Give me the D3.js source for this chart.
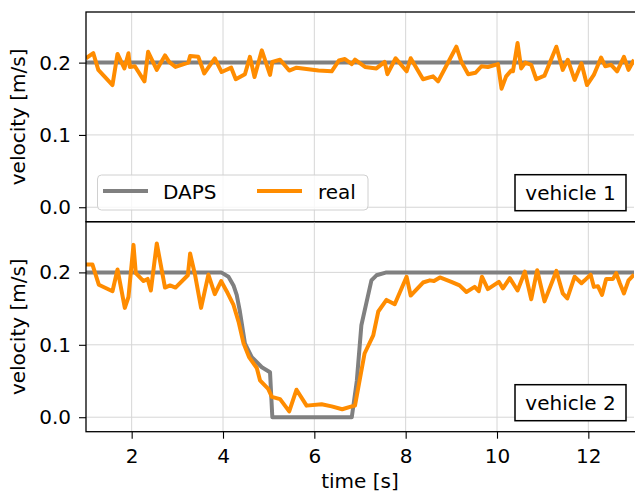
<!DOCTYPE html>
<html>
<head>
<meta charset="utf-8">
<script src="https://cdn.jsdelivr.net/npm/d3@7"></script>
<style>
  body { margin: 0; background: #fff; }
  svg { display: block; font-family: "DejaVu Sans", sans-serif; }
</style>
</head>
<body>
<svg width="635" height="492"></svg>
<script>
// vehicle 1: planned (DAPS) and measured velocity
const v1DapsT = [1, 13];
const v1DapsV = [0.2, 0.2];
const v1RealT = [1.0, 1.16, 1.27, 1.58, 1.69, 1.84, 1.93, 1.96, 2.07, 2.28, 2.36, 2.55, 2.73, 2.82, 2.96,
  3.24, 3.28, 3.46, 3.59, 3.82, 3.97, 4.18, 4.28, 4.48, 4.59, 4.69, 4.85, 5.03, 5.08, 5.25, 5.45, 5.61,
  6.09, 6.38, 6.54, 6.67, 6.82, 6.89, 7.11, 7.36, 7.54, 7.60, 7.78, 8.02, 8.11, 8.38, 8.60, 8.71, 9.11,
  9.22, 9.37, 9.53, 9.66, 9.80, 10.02, 10.10, 10.20, 10.31, 10.35, 10.45, 10.53, 10.62, 10.75, 10.86,
  11.04, 11.30, 11.44, 11.55, 11.70, 11.85, 11.97, 12.12, 12.28, 12.37, 12.50, 12.63, 12.78, 12.88, 13.0];
const v1RealV = [0.206, 0.213, 0.190, 0.169, 0.212, 0.192, 0.213, 0.194, 0.195, 0.174, 0.215, 0.190, 0.210, 0.201, 0.194,
  0.200, 0.209, 0.208, 0.185, 0.206, 0.187, 0.193, 0.177, 0.184, 0.208, 0.180, 0.217, 0.183, 0.201, 0.204, 0.189, 0.193,
  0.189, 0.188, 0.203, 0.205, 0.198, 0.204, 0.194, 0.192, 0.201, 0.184, 0.206, 0.188, 0.206, 0.177, 0.181, 0.174, 0.222,
  0.201, 0.184, 0.186, 0.195, 0.194, 0.198, 0.164, 0.181, 0.189, 0.188, 0.227, 0.192, 0.200, 0.197, 0.177,
  0.182, 0.222, 0.190, 0.204, 0.176, 0.199, 0.169, 0.183, 0.207, 0.195, 0.197, 0.188, 0.208, 0.190, 0.204];

// vehicle 2: slows down, stops and speeds up again
const v2DapsT = [1, 3.96, 4.12, 4.23, 4.30, 4.37, 4.48, 4.63, 4.85, 5.03, 5.08, 6.82, 6.93, 7.03, 7.25, 7.36, 7.58, 13];
const v2DapsV = [0.2, 0.2, 0.194, 0.182, 0.169, 0.146, 0.102, 0.083, 0.069, 0.062, 0.0, 0.0, 0.05, 0.127, 0.189, 0.196, 0.2, 0.2];
const v2RealT = [1.0, 1.14, 1.28, 1.58, 1.69, 1.85, 1.93, 2.04, 2.09, 2.26, 2.35, 2.42, 2.55, 2.73, 2.84, 2.96,
  3.23, 3.28, 3.39, 3.52, 3.68, 3.82, 3.96, 4.08, 4.23, 4.34, 4.45, 4.57, 4.74, 4.81, 4.99, 5.07, 5.25,
  5.45, 5.61, 5.83, 6.16, 6.38, 6.61, 6.82, 6.89, 7.10, 7.29, 7.40, 7.58, 7.76, 8.02, 8.11, 8.38, 8.53,
  8.62, 8.75, 9.00, 9.18, 9.33, 9.51, 9.60, 9.67, 9.80, 10.04, 10.13, 10.28, 10.45, 10.61, 10.75, 10.88,
  11.04, 11.30, 11.44, 11.54, 11.70, 11.85, 11.92, 12.05, 12.12, 12.21, 12.30, 12.39, 12.54, 12.61, 12.69,
  12.78, 12.88, 13.0];
const v2RealV = [0.211, 0.211, 0.183, 0.174, 0.204, 0.151, 0.166, 0.238, 0.199, 0.188, 0.191, 0.175, 0.240, 0.179, 0.182, 0.179,
  0.196, 0.226, 0.196, 0.151, 0.197, 0.170, 0.188, 0.174, 0.155, 0.132, 0.102, 0.083, 0.068, 0.051, 0.039, 0.028, 0.025,
  0.008, 0.038, 0.016, 0.018, 0.015, 0.011, 0.015, 0.016, 0.088, 0.113, 0.146, 0.162, 0.156, 0.194, 0.168, 0.186, 0.189,
  0.188, 0.193, 0.187, 0.182, 0.173, 0.180, 0.174, 0.194, 0.177, 0.187, 0.178, 0.192, 0.175, 0.201, 0.163, 0.203,
  0.160, 0.202, 0.171, 0.164, 0.194, 0.185, 0.189, 0.197, 0.180, 0.181, 0.169, 0.191, 0.191, 0.199, 0.185,
  0.171, 0.189, 0.197];

const xTicks = [2, 4, 6, 8, 10, 12];
const yTicks = [0.0, 0.1, 0.2];
const seriesNames = ["DAPS", "real"];
const panelNames = ["vehicle 1", "vehicle 2"];

const colors = { DAPS: "#808080", real: "#ff8c00" };
const fs = 20;

const svg = d3.select("svg");
const left = 86, right = 634;
const panels = [
  { top: 12, bottom: 221.7, daps: [v1DapsT, v1DapsV], real: [v1RealT, v1RealV], name: panelNames[0], legend: true },
  { top: 221.7, bottom: 431.7, daps: [v2DapsT, v2DapsV], real: [v2RealT, v2RealV], name: panelNames[1], legend: false }
];

const x = d3.scaleLinear().domain([1, 13]).range([left, right]);

const zip = (ts, vs) => ts.map((t, i) => [t, vs[i]]);

panels.forEach((p, pi) => {
  const y = d3.scaleLinear().domain([-0.02, 0.27]).range([p.bottom, p.top]);
  const g = svg.append("g");

  const clipId = "clip" + pi;
  svg.append("clipPath").attr("id", clipId)
    .append("rect").attr("x", left).attr("y", p.top).attr("width", right - left).attr("height", p.bottom - p.top);

  // grid
  g.selectAll(".gx").data(xTicks).enter().append("line")
    .attr("x1", d => x(d)).attr("x2", d => x(d))
    .attr("y1", p.top).attr("y2", p.bottom)
    .attr("stroke", "#d6d6d6").attr("stroke-width", 1);
  g.selectAll(".gy").data(yTicks).enter().append("line")
    .attr("x1", left).attr("x2", right)
    .attr("y1", d => y(d)).attr("y2", d => y(d))
    .attr("stroke", "#d6d6d6").attr("stroke-width", 1);

  const line = d3.line().x(d => x(d[0])).y(d => y(d[1]));
  const lines = g.append("g").attr("clip-path", `url(#${clipId})`);
  lines.append("path").datum(zip(p.daps[0], p.daps[1]))
    .attr("d", line).attr("fill", "none")
    .attr("stroke", colors.DAPS).attr("stroke-width", 4).attr("stroke-linejoin", "round");
  lines.append("path").datum(zip(p.real[0], p.real[1]))
    .attr("d", line).attr("fill", "none")
    .attr("stroke", colors.real).attr("stroke-width", 4).attr("stroke-linejoin", "round");

  // y axis
  const yAxis = g.append("g").attr("transform", `translate(${left},0)`)
    .call(d3.axisLeft(y).tickValues(yTicks).tickFormat(d3.format(".1f")).tickSize(7).tickPadding(8));
  yAxis.select(".domain").remove();
  yAxis.selectAll("text").attr("font-size", fs).attr("fill", "#000").attr("font-family", "DejaVu Sans");
  yAxis.selectAll("line").attr("stroke", "#000").attr("stroke-width", 1.1);

  // x ticks (only bottom panel gets labels)
  const xAxis = g.append("g").attr("transform", `translate(0,${p.bottom})`)
    .call(d3.axisBottom(x).tickValues(xTicks).tickSize(pi === 1 ? 7 : 0).tickPadding(10));
  xAxis.select(".domain").remove();
  xAxis.selectAll("line").attr("stroke", "#000").attr("stroke-width", 1.1);
  xAxis.selectAll("text").attr("font-size", fs).attr("fill", "#000").attr("font-family", "DejaVu Sans")
    .style("display", pi === 1 ? null : "none");

  // frame
  g.append("rect").attr("x", left).attr("y", p.top)
    .attr("width", right - left + 2).attr("height", p.bottom - p.top)
    .attr("fill", "none").attr("stroke", "#000").attr("stroke-width", 1.3);

  // y label
  g.append("text")
    .attr("transform", `translate(25,${(p.top + p.bottom) / 2}) rotate(-90)`)
    .attr("text-anchor", "middle")
    .attr("font-size", fs)
    .text("velocity [m/s]");

  // vehicle label box
  const bx = 515, bw = 111, bh = 36, by = p.bottom - 11 - bh;
  g.append("rect").attr("x", bx).attr("y", by).attr("width", bw).attr("height", bh)
    .attr("fill", "#fff").attr("stroke", "#000").attr("stroke-width", 1.5);
  g.append("text").attr("x", bx + bw / 2).attr("y", by + bh / 2 + 7)
    .attr("text-anchor", "middle").attr("font-size", fs).text(p.name);

  if (p.legend) {
    const lg = g.append("g");
    lg.append("rect").attr("x", 97.5).attr("y", 175).attr("width", 270.5).attr("height", 35)
      .attr("rx", 4).attr("fill", "rgba(255,255,255,0.8)").attr("stroke", "#d0d0d0").attr("stroke-width", 1);
    const items = [
      { name: seriesNames[0], x0: 103, tx: 163 },
      { name: seriesNames[1], x0: 257, tx: 318 }
    ];
    items.forEach(it => {
      lg.append("line").attr("x1", it.x0).attr("x2", it.x0 + 45).attr("y1", 191).attr("y2", 191)
        .attr("stroke", colors[it.name]).attr("stroke-width", 4);
      lg.append("text").attr("x", it.tx).attr("y", 199).attr("font-size", fs).text(it.name);
    });
  }
});

// x label
svg.append("text").attr("x", (left + right) / 2).attr("y", 488)
  .attr("text-anchor", "middle").attr("font-size", fs).text("time [s]");
</script>
</body>
</html>
